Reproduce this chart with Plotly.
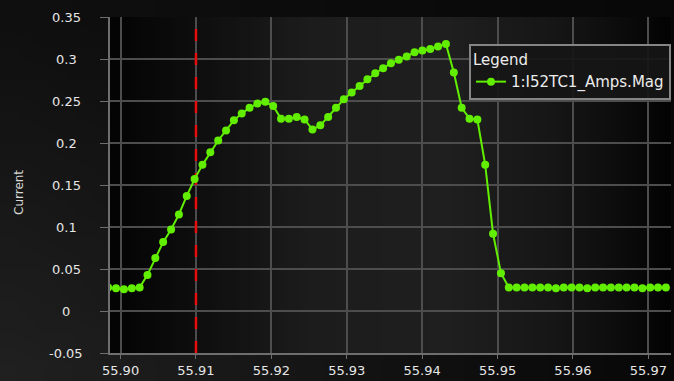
import base64
import struct
import zlib

import plotly.graph_objects as go

# ---------------- data ----------------
time_s = [55.89836, 55.89940, 55.90045, 55.90149, 55.90253, 55.90357, 55.90461, 55.90565,
          55.90670, 55.90774, 55.90878, 55.90982, 55.91086, 55.91190, 55.91295, 55.91399,
          55.91503, 55.91607, 55.91711, 55.91815, 55.91920, 55.92024, 55.92128, 55.92232,
          55.92336, 55.92440, 55.92545, 55.92649, 55.92753, 55.92857, 55.92961, 55.93065,
          55.93170, 55.93274, 55.93378, 55.93482, 55.93586, 55.93690, 55.93795, 55.93899,
          55.94003, 55.94107, 55.94211, 55.94315, 55.94420, 55.94524, 55.94628, 55.94732,
          55.94836, 55.94940, 55.95045, 55.95149, 55.95253, 55.95357, 55.95461, 55.95565,
          55.95670, 55.95774, 55.95878, 55.95982, 55.96086, 55.96190, 55.96295, 55.96399,
          55.96503, 55.96607, 55.96711, 55.96815, 55.96920, 55.97024, 55.97128, 55.97232]

amps_mag = [0.028, 0.027, 0.026, 0.027, 0.028, 0.043, 0.063, 0.082, 0.097, 0.115, 0.137, 0.157,
            0.174, 0.189, 0.203, 0.215, 0.227, 0.235, 0.242, 0.247, 0.249, 0.244, 0.229, 0.229,
            0.231, 0.228, 0.216, 0.221, 0.231, 0.242, 0.252, 0.260, 0.268, 0.276, 0.283, 0.289,
            0.295, 0.299, 0.303, 0.308, 0.310, 0.312, 0.315, 0.318, 0.284, 0.242, 0.229, 0.228,
            0.174, 0.092, 0.045, 0.028, 0.028, 0.028, 0.028, 0.028, 0.028, 0.027, 0.028, 0.028,
            0.028, 0.027, 0.028, 0.028, 0.028, 0.028, 0.028, 0.028, 0.027, 0.028, 0.028, 0.028]

series_name = "1:I52TC1_Amps.Mag"
cursor_time = 55.91

x_tick_vals = [55.90, 55.91, 55.92, 55.93, 55.94, 55.95, 55.96, 55.97]
x_tick_text = ["55.90", "55.91", "55.92", "55.93", "55.94", "55.95", "55.96", "55.97"]
y_tick_vals = [0.35, 0.30, 0.25, 0.20, 0.15, 0.10, 0.05, 0.0, -0.05]
y_tick_text = ["0.35", "0.3", "0.25", "0.2", "0.15", "0.1", "0.05", "0", "-0.05"]
x_range = [55.8986, 55.9730]
y_range = [-0.05, 0.35]


# ------------- gradient backgrounds (style only) -------------
def png_uri(rows):
    h = len(rows)
    w = len(rows[0])
    raw = b"".join(b"\x00" + bytes([c for px in row for c in px]) for row in rows)

    def chunk(tag, data):
        c = struct.pack(">I", len(data)) + tag + data
        return c + struct.pack(">I", zlib.crc32(tag + data) & 0xFFFFFFFF)

    png = b"\x89PNG\r\n\x1a\n"
    png += chunk(b"IHDR", struct.pack(">IIBBBBB", w, h, 8, 2, 0, 0, 0))
    png += chunk(b"IDAT", zlib.compress(raw, 9))
    png += chunk(b"IEND", b"")
    return "data:image/png;base64," + base64.b64encode(png).decode()


def interp(stops, f):
    for (f0, v0), (f1, v1) in zip(stops, stops[1:]):
        if f0 <= f <= f1:
            return v0 + (v1 - v0) * (f - f0) / (f1 - f0)
    return stops[-1][1]


plot_stops = [(0.0, 4), (0.15, 14), (0.35, 28), (0.6, 31), (0.8, 22), (0.92, 12), (1.0, 3)]
W = 96
plot_row = []
for i in range(W):
    v = int(round(interp(plot_stops, i / (W - 1))))
    plot_row.append((v, v, v))
plot_img = png_uri([plot_row, plot_row])

PW, PH = 24, 12
paper_rows = []
for j in range(PH):
    fy = j / (PH - 1)
    row = []
    for i in range(PW):
        fx = i / (PW - 1)
        v = int(round(8 + 24 * (1 - fx) * (0.3 + 0.7 * fy)))
        row.append((v, v, v))
    paper_rows.append(row)
paper_img = png_uri(paper_rows)

# ---------------- figure ----------------
L, R, T, B = 110, 3, 17, 28
FW, FH = 674, 381
pw, ph = FW - L - R, FH - T - B

green = "#62ee00"
label_font = dict(family="DejaVu Sans", size=13, color="#e6e6e6")

fig = go.Figure()
# cursor line (drawn first so the data trace sits on top of it)
fig.add_trace(go.Scatter(
    x=[cursor_time, cursor_time], y=y_range, mode="lines", showlegend=False,
    hoverinfo="skip", line=dict(color="#e80c0c", width=2.5, dash="12px,12px"),
))
fig.add_trace(go.Scatter(
    x=time_s, y=amps_mag, mode="lines+markers", name=series_name,
    line=dict(color=green, width=2),
    marker=dict(color=green, size=8),
))

annotations = []
for v, t in zip(y_tick_vals, y_tick_text):
    annotations.append(dict(x=0, xref="paper", y=v, yref="y", text=t, showarrow=False,
                            xanchor="center", yanchor="middle", xshift=-44, font=label_font))
annotations.append(dict(x=0, xref="paper", y=0.5, yref="paper", text="Current", showarrow=False,
                        textangle=-90, xanchor="center", yanchor="middle", xshift=-91, yshift=-8,
                        font=dict(family="DejaVu Sans", size=12, color="#d8d8d8")))

fig.update_layout(
    width=FW, height=FH,
    margin=dict(l=L, r=R, t=T, b=B),
    paper_bgcolor="#111111",
    plot_bgcolor="rgba(0,0,0,0)",
    images=[
        dict(source=paper_img, xref="paper", yref="paper", x=-L / pw, y=1 + T / ph,
             sizex=FW / pw, sizey=FH / ph, sizing="stretch", layer="below",
             xanchor="left", yanchor="top"),
        dict(source=plot_img, xref="paper", yref="paper", x=0, y=1, sizex=1, sizey=1,
             sizing="stretch", layer="below", xanchor="left", yanchor="top"),
    ],
    xaxis=dict(range=x_range, tickvals=x_tick_vals, ticktext=x_tick_text,
               showgrid=True, gridcolor="#4d4d4d", gridwidth=2,
               showline=True, linecolor="#6e6e6e", linewidth=2,
               ticks="outside", ticklen=4, tickcolor="#6e6e6e",
               tickfont=label_font, zeroline=False, fixedrange=True),
    yaxis=dict(range=y_range, tickvals=y_tick_vals, showticklabels=False,
               showgrid=True, gridcolor="#4d4d4d", gridwidth=2,
               showline=True, linecolor="#6e6e6e", linewidth=2,
               ticks="outside", ticklen=8, tickcolor="#6e6e6e",
               zeroline=False, fixedrange=True),
    showlegend=True,
    legend=dict(x=1.0, xanchor="right", y=0.92, yanchor="top",
                bgcolor="rgba(22,22,22,0.92)", bordercolor="#858585", borderwidth=2,
                title=dict(text="Legend", font=dict(family="DejaVu Sans", size=15, color="#ececec")),
                font=dict(family="DejaVu Sans", size=15, color="#ececec"),
                itemwidth=30),
    annotations=annotations,
)

fig.write_html("out.html", config={"displayModeBar": False},
               post_script="document.body.style.margin='0';document.body.style.overflow='hidden';")
